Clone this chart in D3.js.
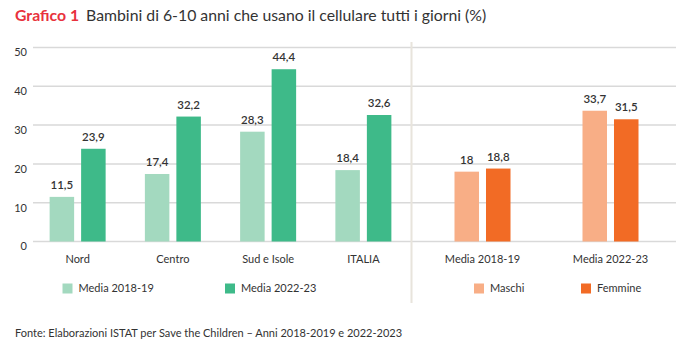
<!DOCTYPE html>
<html><head><meta charset="utf-8">
<script src="https://cdn.jsdelivr.net/npm/d3@7"></script>
<style>body{margin:0;background:#fff;}svg{display:block;font-family:Lato,"Noto Sans",sans-serif;}</style>
</head><body>
<svg id="c" width="686" height="350"></svg>
<script>
const areas = ["Nord", "Centro", "Sud e Isole", "ITALIA"];
const areaSeries = ["Media 2018-19", "Media 2022-23"];
const area1819 = [11.5, 17.4, 28.3, 18.4];
const area2223 = [23.9, 32.2, 44.4, 32.6];
const periods = ["Media 2018-19", "Media 2022-23"];
const sexSeries = ["Maschi", "Femmine"];
const maschi = [18, 33.7];
const femmine = [18.8, 31.5];
const yTicks = [0, 10, 20, 30, 40, 50];
const greenColors = ["#a3d9bf", "#3eba89"];
const orangeColors = ["#f8ae86", "#f26b25"];

const svg = d3.select("#c");
const fmt = v => String(v).replace(".", ",");

const y = d3.scaleLinear().domain([0, 50]).range([241.5, 47.5]);

svg.append("g").selectAll("line").data(yTicks).join("line")
  .attr("x1", 33).attr("x2", 676)
  .attr("y1", d => y(d)).attr("y2", d => y(d))
  .attr("stroke", "#d9d9d9").attr("stroke-width", 1.5);

svg.append("g").selectAll("text").data(yTicks).join("text")
  .attr("x", 27).attr("y", d => y(d) + 5).attr("dy", "0.35em")
  .attr("text-anchor", "end").attr("font-size", 11).attr("fill", "#333")
  .text(d => d);

svg.append("line").attr("x1", 411.5).attr("x2", 411.5).attr("y1", 42).attr("y2", 303)
  .attr("stroke", "#e8e4dc").attr("stroke-width", 2);

function panel(cats, seriesNames, valuesArr, colors, range) {
  const x0 = d3.scaleBand().domain(cats).range(range);
  const x1 = d3.scaleBand().domain(seriesNames).range([0, 56]).paddingInner(0.222);
  const g = svg.append("g");
  cats.forEach((c, i) => {
    const gx = x0(c) + x0.bandwidth() / 2 - 28;
    seriesNames.forEach((s, j) => {
      const v = valuesArr[j][i];
      g.append("rect")
        .attr("x", gx + x1(s)).attr("y", y(v))
        .attr("width", x1.bandwidth()).attr("height", y(0) - y(v))
        .attr("fill", colors[j]);
      g.append("text")
        .attr("x", gx + x1(s) + x1.bandwidth() / 2).attr("y", y(v) - 8)
        .attr("text-anchor", "middle").attr("font-size", 11.5).attr("font-weight", 600)
        .attr("fill", "#333").text(fmt(v));
    });
    g.append("text")
      .attr("x", x0(c) + x0.bandwidth() / 2).attr("y", 259).attr("dy", "0.35em")
      .attr("text-anchor", "middle").attr("font-size", 11).attr("fill", "#333")
      .text(c);
  });
}
panel(areas, areaSeries, [area1819, area2223], greenColors, [30, 411]);
panel(periods, sexSeries, [maschi, femmine], orangeColors, [418.5, 674.5]);

function legend(names, colors, xs) {
  names.forEach((n, i) => {
    svg.append("rect").attr("x", xs[i]).attr("y", 283.5).attr("width", 10).attr("height", 10)
      .attr("fill", colors[i]);
    svg.append("text").attr("x", xs[i] + 16).attr("y", 288.5).attr("dy", "0.35em")
      .attr("font-size", 11).attr("fill", "#333").text(n);
  });
}
legend(areaSeries, greenColors, [62.5, 225]);
legend(sexSeries, orangeColors, [474, 581]);

const t = svg.append("text").attr("x", 15).attr("y", 15).attr("dy", "0.35em").attr("font-size", 15.8);
t.append("tspan").attr("fill", "#e8323d").attr("font-weight", 700).text("Grafico 1");
t.append("tspan").attr("fill", "#333").attr("dx", 7).text("Bambini di 6-10 anni che usano il cellulare tutti i giorni (%)");

svg.append("text").attr("x", 15).attr("y", 333).attr("dy", "0.35em")
  .attr("font-size", 11).attr("fill", "#333")
  .text("Fonte: Elaborazioni ISTAT per Save the Children – Anni 2018-2019 e 2022-2023");
</script>
</body></html>
